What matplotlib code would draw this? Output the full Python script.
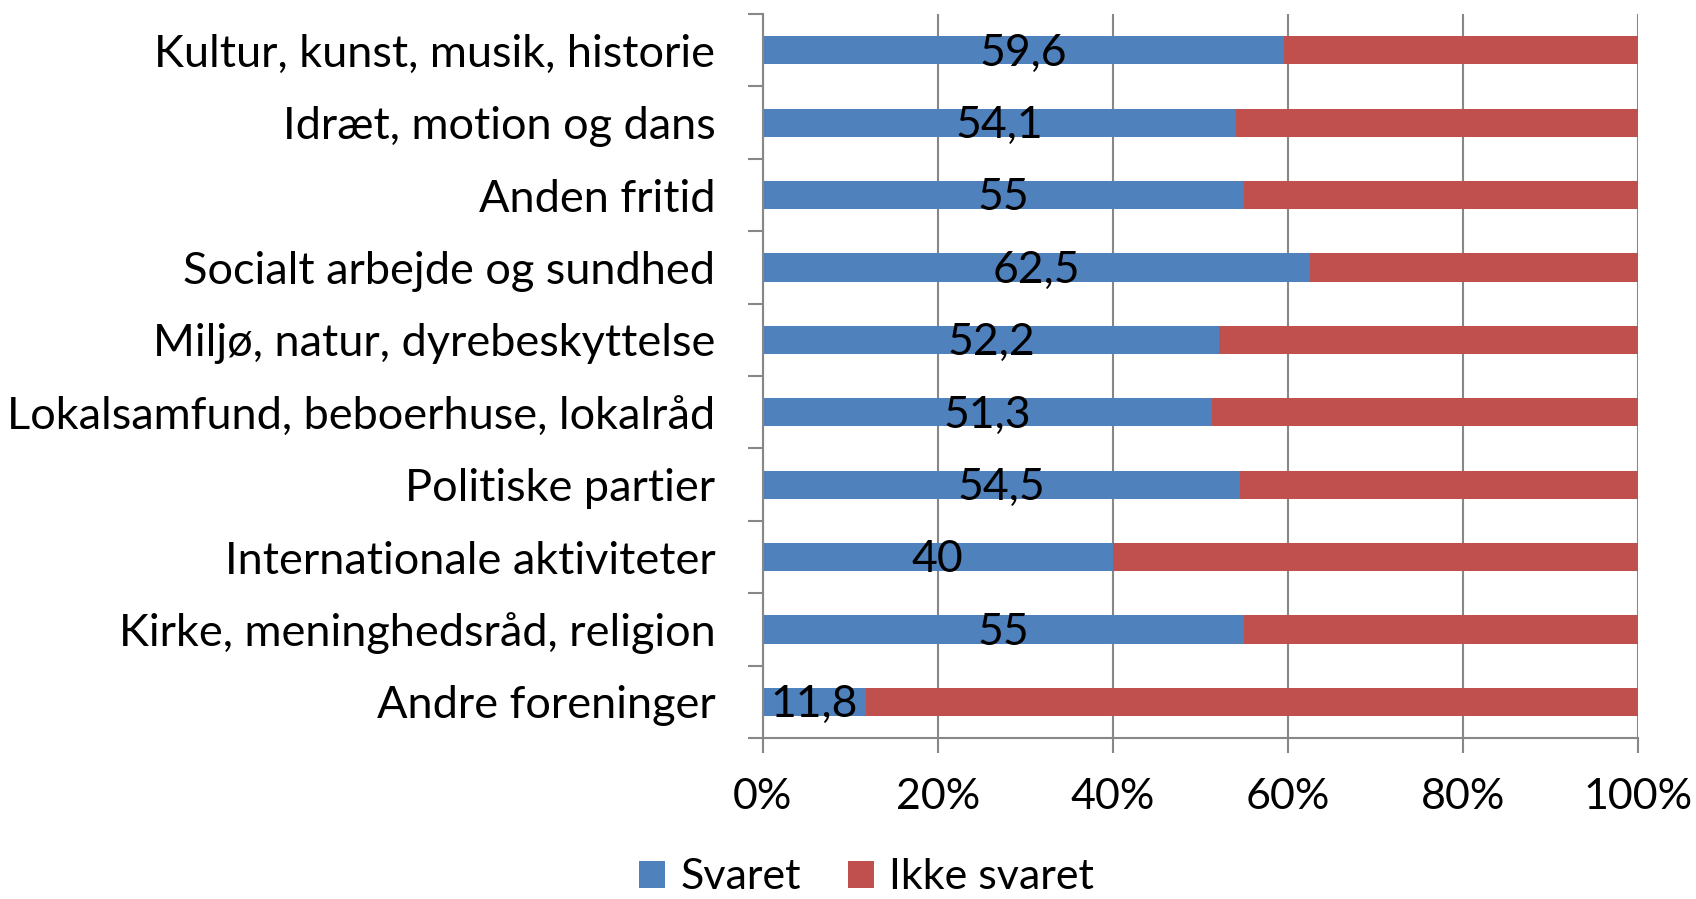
import matplotlib.pyplot as plt
from matplotlib.ticker import FixedLocator

# Data
categories = ["Kultur, kunst, musik, historie",
              "Idræt, motion og dans",
              "Anden fritid",
              "Socialt arbejde og sundhed",
              "Miljø, natur, dyrebeskyttelse",
              "Lokalsamfund, beboerhuse, lokalråd",
              "Politiske partier",
              "Internationale aktiviteter",
              "Kirke, meninghedsråd, religion",
              "Andre foreninger"]
svaret = [59.6, 54.1, 55, 62.5, 52.2, 51.3, 54.5, 40, 55, 11.8]
ikke_svaret = [100 - v for v in svaret]
xticks = [0, 20, 40, 60, 80, 100]

blue = "#4F81BD"
red = "#C0504D"
grey = "#878787"

plt.rcParams['font.family'] = ['Lato', 'DejaVu Sans']
fs = 31

fig = plt.figure(figsize=(16.96, 8.99), dpi=100)
ax = fig.add_axes([0.4497, 0.179, 0.5159, 0.8054])

y = list(range(len(categories)))
b1 = ax.barh(y, svaret, height=0.39, color=blue, label="Svaret")
b2 = ax.barh(y, ikke_svaret, left=svaret, height=0.39, color=red, label="Ikke svaret")

# data labels centered in the blue part
for yi, v in zip(y, svaret):
    txt = ("%g" % v).replace(".", ",")
    ax.text(v / 2, yi + 0.04, txt, ha="center", va="center", fontsize=32, color="black")

ax.set_xlim(0, 100)
ax.set_ylim(len(categories) - 0.5, -0.5)

ax.set_xticks(xticks)
ax.set_xticklabels(["%d%%" % t for t in xticks], fontsize=fs)
ax.set_yticks(y)
ax.set_yticklabels(categories, fontsize=32.5)
ax.yaxis.set_minor_locator(FixedLocator([i - 0.5 for i in range(len(categories) + 1)]))

ax.tick_params(axis="y", which="major", length=0, pad=34)
ax.tick_params(axis="y", which="minor", length=10.8, width=1.5, color=grey)
ax.tick_params(axis="x", which="major", length=10.8, width=1.5, color=grey, pad=18)

ax.grid(axis="x", color=grey, linewidth=1.5)
ax.set_axisbelow(True)

for s in ["top", "right"]:
    ax.spines[s].set_visible(False)
for s in ["left", "bottom"]:
    ax.spines[s].set_color(grey)
    ax.spines[s].set_linewidth(1.5)

fig.legend(handles=[b1, b2], loc="center", bbox_to_anchor=(0.511, 0.024), ncol=2,
           frameon=False, fontsize=fs, handlelength=0.6, handleheight=0.6,
           handletextpad=0.35, columnspacing=1.1)

fig.savefig("out.png", dpi=100)
